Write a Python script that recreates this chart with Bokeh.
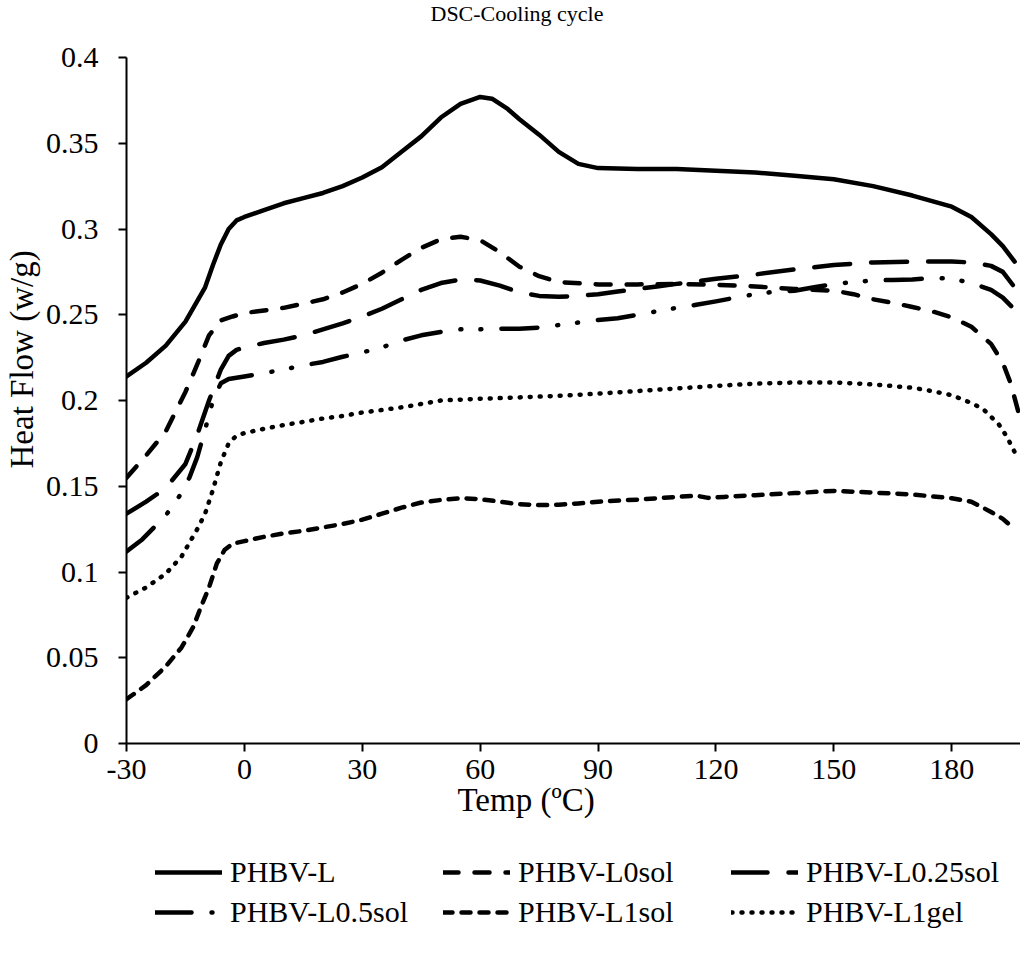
from bokeh.embed import file_html
from bokeh.layouts import column
from bokeh.models import FixedTicker, Legend, LegendItem, Range1d, Title
from bokeh.plotting import figure
from bokeh.resources import INLINE

# DSC cooling scans: temperature (ºC) and heat flow (w/g) per sample
t_l = [-30, -25, -20, -15, -10, -8, -6, -4, -2, 0, 5, 10, 15, 20, 25, 30, 35, 40,
       45, 50, 55, 60, 63, 67, 70, 75, 80, 85, 90, 100, 110, 120, 130, 140, 150,
       160, 170, 180, 185, 190, 193, 196]
hf_l = [0.214, 0.222, 0.232, 0.246, 0.266, 0.279, 0.291, 0.300, 0.305, 0.307,
        0.311, 0.315, 0.318, 0.321, 0.325, 0.330, 0.336, 0.345, 0.354, 0.365,
        0.373, 0.377, 0.376, 0.370, 0.364, 0.355, 0.345, 0.338, 0.3355, 0.335,
        0.335, 0.334, 0.333, 0.331, 0.329, 0.325, 0.3195, 0.313, 0.307, 0.297,
        0.290, 0.281]

t_l0sol = [-30, -25, -20, -15, -12, -9, -6, -3, 0, 5, 10, 15, 20, 25, 30, 35, 40,
           45, 50, 55, 60, 65, 70, 75, 80, 90, 100, 110, 120, 130, 140, 150, 155,
           160, 165, 170, 175, 180, 185, 190, 193, 195, 197]
hf_l0sol = [0.155, 0.168, 0.182, 0.205, 0.221, 0.238, 0.2467, 0.249, 0.251,
            0.2525, 0.254, 0.2565, 0.259, 0.263, 0.268, 0.2745, 0.282, 0.289,
            0.294, 0.2955, 0.2935, 0.2865, 0.278, 0.2725, 0.269, 0.2677, 0.2677,
            0.268, 0.2675, 0.2665, 0.265, 0.264, 0.262, 0.259, 0.257, 0.2545,
            0.252, 0.2485, 0.243, 0.233, 0.222, 0.210, 0.193]

t_l025sol = [-30, -25, -20, -15, -12, -9, -6, -4, -2, 0, 5, 10, 15, 20, 25, 30,
             35, 40, 45, 50, 55, 60, 65, 70, 75, 80, 85, 90, 95, 100, 105, 110,
             120, 130, 140, 150, 160, 170, 180, 185, 190, 193, 196, 197]
hf_l025sol = [0.134, 0.141, 0.149, 0.163, 0.180, 0.200, 0.218, 0.226, 0.2295,
              0.231, 0.2335, 0.2355, 0.238, 0.2415, 0.245, 0.249, 0.2535, 0.259,
              0.2645, 0.2685, 0.2705, 0.270, 0.267, 0.263, 0.261, 0.2605, 0.261,
              0.262, 0.2635, 0.265, 0.2665, 0.268, 0.271, 0.2735, 0.2765, 0.279,
              0.2805, 0.281, 0.281, 0.2805, 0.2785, 0.275, 0.266, 0.262]

t_l05sol = [-30, -26, -20, -16, -14, -12, -10, -8, -6, -4, 0, 5, 10, 15, 20, 25,
            30, 35, 40, 45, 50, 55, 60, 65, 70, 75, 80, 85, 90, 95, 100, 105, 110,
            115, 120, 125, 130, 135, 140, 145, 150, 155, 160, 165, 170, 175, 180,
            185, 190, 193, 196, 197]
hf_l05sol = [0.112, 0.119, 0.133, 0.146, 0.155, 0.167, 0.183, 0.200, 0.210,
             0.2125, 0.214, 0.216, 0.218, 0.2205, 0.2225, 0.2255, 0.228, 0.231,
             0.235, 0.238, 0.240, 0.2415, 0.2415, 0.2418, 0.2418, 0.2425, 0.244,
             0.2455, 0.247, 0.248, 0.250, 0.252, 0.254, 0.2558, 0.2578, 0.260,
             0.262, 0.2635, 0.264, 0.266, 0.268, 0.269, 0.270, 0.2703, 0.2705,
             0.2715, 0.271, 0.2685, 0.2645, 0.260, 0.253, 0.2495]

t_l1sol = [-30, -25, -20, -16, -13, -11, -9, -7, -5, -3, 0, 5, 10, 15, 20, 25,
           30, 35, 40, 45, 50, 55, 60, 65, 70, 75, 80, 85, 90, 100, 110, 115, 118,
           122, 130, 140, 150, 160, 170, 180, 185, 190, 193, 196]
hf_l1sol = [0.0258, 0.034, 0.045, 0.056, 0.068, 0.080, 0.091, 0.105, 0.113,
            0.1165, 0.118, 0.1205, 0.1225, 0.124, 0.126, 0.128, 0.1305, 0.134,
            0.1375, 0.1405, 0.142, 0.143, 0.1425, 0.141, 0.1395, 0.139, 0.1392,
            0.140, 0.141, 0.1422, 0.1438, 0.1445, 0.1432, 0.1438, 0.1448, 0.146,
            0.1473, 0.1463, 0.1452, 0.143, 0.141, 0.135, 0.131, 0.125]

t_l1gel = [-30, -25, -20, -16, -14, -12, -10, -8, -6, -4, -2, 0, 5, 10, 15, 20,
           25, 30, 35, 40, 45, 50, 60, 70, 80, 90, 100, 110, 120, 130, 140, 150,
           156, 162, 170, 175, 180, 185, 188, 192, 194, 196]
hf_l1gel = [0.085, 0.091, 0.099, 0.109, 0.117, 0.125, 0.134, 0.148, 0.164,
            0.175, 0.1795, 0.181, 0.1835, 0.1857, 0.1875, 0.1895, 0.191, 0.193,
            0.1945, 0.196, 0.198, 0.200, 0.201, 0.2018, 0.2027, 0.204, 0.2055,
            0.207, 0.2085, 0.2098, 0.2105, 0.2105, 0.2099, 0.209, 0.2074, 0.2055,
            0.2031, 0.1985, 0.195, 0.186, 0.179, 0.170]

series_names = ["PHBV-L", "PHBV-L0sol", "PHBV-L0.25sol",
                "PHBV-L0.5sol", "PHBV-L1sol", "PHBV-L1gel"]

x_ticks = [-30, 0, 30, 60, 90, 120, 150, 180]
x_tick_labels = ["-30", "0", "30", "60", "90", "120", "150", "180"]
y_ticks = [0, 0.05, 0.1, 0.15, 0.2, 0.25, 0.3, 0.35, 0.4]
y_tick_labels = ["0", "0.05", "0.1", "0.15", "0.2", "0.25", "0.3", "0.35", "0.4"]

FONT = "Liberation Serif"
LW = 4.5
DASHES = ["solid", "15 16", "36 21", "36 20 1 19 1 20", "9 9", "1 9"]

p = figure(
    width=1020, height=840,
    x_range=Range1d(-30, 197.5), y_range=Range1d(0, 0.4),
    output_backend="svg", toolbar_location=None,
    min_border_left=126, min_border_right=0,
    min_border_top=55, min_border_bottom=97,
)
p.outline_line_color = None
p.xgrid.visible = False
p.ygrid.visible = False
p.background_fill_color = "white"
p.border_fill_color = "white"

for ax in (p.xaxis[0], p.yaxis[0]):
    ax.axis_line_color = "black"
    ax.axis_line_width = 2
    ax.major_tick_line_color = "black"
    ax.major_tick_line_width = 2
    ax.major_tick_in = 0
    ax.major_tick_out = 8
    ax.minor_tick_line_color = None
    ax.major_label_text_font = FONT
    ax.major_label_text_font_size = "30px"
    ax.major_label_text_color = "black"

p.xaxis.major_label_standoff = 8
p.yaxis.major_label_standoff = 20
p.xaxis.ticker = FixedTicker(ticks=x_ticks)
p.yaxis.ticker = FixedTicker(ticks=y_ticks)
p.xaxis.major_label_overrides = {t: s for t, s in zip(x_ticks, x_tick_labels)}
p.yaxis.major_label_overrides = {t: s for t, s in zip(y_ticks, y_tick_labels)}

common = dict(line_color="black", line_width=LW, line_cap="round", line_join="round")
curves = [(t_l, hf_l), (t_l0sol, hf_l0sol), (t_l025sol, hf_l025sol),
          (t_l05sol, hf_l05sol), (t_l1sol, hf_l1sol), (t_l1gel, hf_l1gel)]
for (tx, hy), dash in zip(curves, DASHES):
    p.line(tx, hy, line_dash=dash, **common)

# Chart title above the frame
p.add_layout(Title(text="DSC-Cooling cycle\n", align="left", offset=304,
                   vertical_align="top", standoff=0, text_line_height=1.2,
                   text_font=FONT, text_font_size="22px", text_font_style="normal",
                   text_color="black"), "above")

# Axis titles
p.add_layout(Title(text="Heat Flow (w/g)", align="left", offset=275,
                   vertical_align="top", standoff=2,
                   text_font=FONT, text_font_size="33px", text_font_style="normal",
                   text_color="black"), "left")
p.add_layout(Title(text="Temp (ºC)", align="left", offset=331,
                   vertical_align="top", standoff=0,
                   text_font=FONT, text_font_size="33px", text_font_style="normal",
                   text_color="black"), "below")

# Key strip under the chart: the same curves drawn into a view window that
# holds none of them, so only their legend samples show, 3 per row
key = figure(
    width=1020, height=126, x_range=Range1d(1000, 1001), y_range=Range1d(10, 11),
    output_backend="svg", toolbar_location=None,
    x_axis_location=None, y_axis_location=None, min_border=0,
)
key.outline_line_color = None
key.xgrid.visible = False
key.ygrid.visible = False
key_items = []
for name, (tx, hy), dash in zip(series_names, curves, DASHES):
    r = key.line(tx, hy, line_dash=dash, **common)
    key_items.append(LegendItem(label=name, renderers=[r]))

legend = Legend(
    items=key_items, orientation="horizontal", ncols=3, location=(29, 35),
    glyph_width=67, glyph_height=38, label_height=38, label_width=211,
    label_standoff=8, spacing=2, padding=0, margin=0,
    label_text_font=FONT, label_text_font_size="30px", label_text_color="black",
    border_line_color=None, background_fill_alpha=0,
)
key.add_layout(legend)

layout = column(p, key, spacing=0)
open("out.html", "w").write(file_html(layout, INLINE))
